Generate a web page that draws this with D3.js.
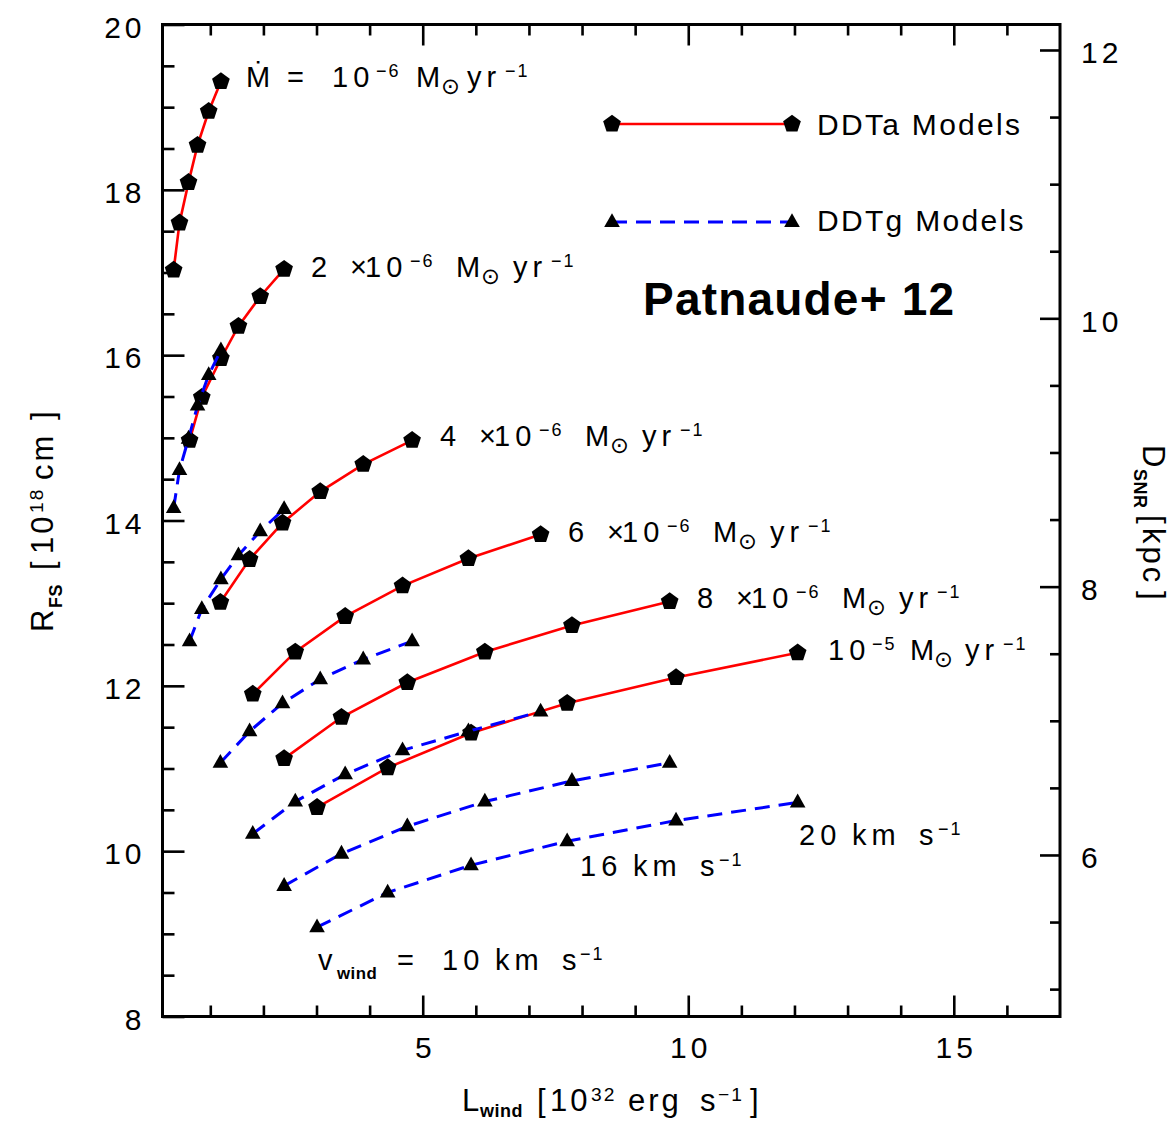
<!DOCTYPE html>
<html><head><meta charset="utf-8">
<script src="https://cdn.jsdelivr.net/npm/d3@7"></script>
<style>
body{margin:0;background:#fff}
text{font-family:"Liberation Sans","DejaVu Sans",Arial,sans-serif;fill:#000}
</style>
</head><body>
<svg id="c" width="1172" height="1122"></svg>
<script>
// ---------------- data ----------------
const mdotModels = ["1e-6", "2e-6", "4e-6", "6e-6", "8e-6", "1e-5"];
// wind luminosity (10^32 erg/s) for v_wind = 10,12,14,16,18,20 km/s
const lwind1e6 = [0.31, 0.42, 0.59, 0.76, 0.97, 1.20];
const lwind2e6 = [0.61, 0.84, 1.20, 1.53, 1.94, 2.39];
const lwind4e6 = [1.19, 1.74, 2.36, 3.07, 3.88, 4.80];
const lwind6e6 = [1.80, 2.60, 3.54, 4.62, 5.86, 7.22];
const lwind8e6 = [2.39, 3.47, 4.71, 6.17, 7.81, 9.65];
const lwind1e5 = [3.01, 4.34, 5.91, 7.72, 9.77, 12.06];
// forward shock radius (10^18 cm), DDTa models
const rfsA1e6 = [17.03, 17.60, 18.09, 18.54, 18.95, 19.31];
const rfsA2e6 = [14.97, 15.49, 15.96, 16.35, 16.71, 17.04];
const rfsA4e6 = [13.01, 13.53, 13.97, 14.35, 14.68, 14.97];
const rfsA6e6 = [11.90, 12.41, 12.84, 13.21, 13.54, 13.83];
const rfsA8e6 = [11.12, 11.62, 12.04, 12.41, 12.73, 13.02];
const rfsA1e5 = [10.53, 11.01, 11.43, 11.79, 12.10, 12.40];
// forward shock radius (10^18 cm), DDTg models
const rfsG1e6 = [14.15, 14.61, 14.99, 15.39, 15.76, 16.06];
const rfsG2e6 = [12.54, 12.93, 13.29, 13.58, 13.87, 14.14];
const rfsG4e6 = [11.07, 11.45, 11.79, 12.08, 12.32, 12.54];
const rfsG6e6 = [10.21, 10.60, 10.93, 11.22, 11.45, 11.69];
const rfsG8e6 = [9.58, 9.97, 10.30, 10.60, 10.85, 11.07];
const rfsG1e5 = [9.08, 9.50, 9.83, 10.12, 10.37, 10.59];
// axis ticks
const xMajorTicks = [5, 10, 15];
const yMajorTicks = [8, 10, 12, 14, 16, 18, 20];
const dMajorTicks = [6, 8, 10, 12];

const lwindAll = [lwind1e6, lwind2e6, lwind4e6, lwind6e6, lwind8e6, lwind1e5];
const rfsAAll = [rfsA1e6, rfsA2e6, rfsA4e6, rfsA6e6, rfsA8e6, rfsA1e5];
const rfsGAll = [rfsG1e6, rfsG2e6, rfsG4e6, rfsG6e6, rfsG8e6, rfsG1e5];

// ---------------- layout ----------------
const L = 162.5, R = 1060, T = 24.5, B = 1016.5;
const svg = d3.select('#c');
const x = d3.scaleLinear().domain([0.1, 17]).range([L, R]);
const y = d3.scaleLinear().domain([8, 20]).range([B, T]);
const yD = d3.scaleLinear().domain([4.796, 12.19]).range([B, T]);

const tickFont = 30, LS = 4;

function styleAxis(g) {
  g.select('.domain').remove();
  g.selectAll('.tick line').attr('stroke', '#000').attr('stroke-width', 2.6);
  g.selectAll('.tick text').attr('font-size', tickFont).attr('letter-spacing', LS)
    .attr('font-family', '"Liberation Sans","DejaVu Sans",Arial,sans-serif').attr('fill', '#000');
}
const minorX = d3.range(1, 17).filter(v => v % 5 !== 0);
const minorY = d3.range(8, 20.01, 0.5).filter(v => v % 2 !== 0);
const minorD = d3.range(5, 12.01, 0.5).filter(v => v % 2 !== 0);

// bottom
svg.append('g').attr('transform', `translate(0,${B})`)
  .call(d3.axisBottom(x).tickValues(minorX).tickSize(-11).tickFormat('')).call(styleAxis);
svg.append('g').attr('transform', `translate(0,${B})`)
  .call(d3.axisBottom(x).tickValues(xMajorTicks).tickSize(-21).tickPadding(20).tickFormat(d3.format('d')))
  .call(styleAxis)
  .selectAll('.tick text').attr('dx', LS / 2);
// top
svg.append('g').attr('transform', `translate(0,${T})`)
  .call(d3.axisTop(x).tickValues(minorX).tickSize(-11).tickFormat('')).call(styleAxis);
svg.append('g').attr('transform', `translate(0,${T})`)
  .call(d3.axisTop(x).tickValues(xMajorTicks).tickSize(-21).tickFormat('')).call(styleAxis);
// left
svg.append('g').attr('transform', `translate(${L},0)`)
  .call(d3.axisLeft(y).tickValues(minorY).tickSize(-12).tickFormat('')).call(styleAxis);
svg.append('g').attr('transform', `translate(${L},0)`)
  .call(d3.axisLeft(y).tickValues(yMajorTicks).tickSize(-22).tickPadding(17).tickFormat(d3.format('d')))
  .call(styleAxis)
  .selectAll('.tick text').attr('dy', '0.42em');
// right
svg.append('g').attr('transform', `translate(${R},0)`)
  .call(d3.axisRight(yD).tickValues(minorD).tickSize(-10).tickFormat('')).call(styleAxis);
svg.append('g').attr('transform', `translate(${R},0)`)
  .call(d3.axisRight(yD).tickValues(dMajorTicks).tickSize(-20).tickPadding(21).tickFormat(d3.format('d')))
  .call(styleAxis)
  .selectAll('.tick text').attr('dy', '0.43em');

// frame
svg.append('rect').attr('x', L).attr('y', T).attr('width', R - L).attr('height', B - T)
  .attr('fill', 'none').attr('stroke', '#000').attr('stroke-width', 3);

// ---------------- markers ----------------
function pentagonPath(r) {
  const pts = d3.range(5).map(i => {
    const a = -Math.PI / 2 + i * 2 * Math.PI / 5;
    return [r * Math.cos(a), r * Math.sin(a)];
  });
  return 'M' + pts.map(p => p.join(',')).join('L') + 'Z';
}
const triPath = 'M0,-8.8L7.8,5L-7.8,5Z';
const pent = pentagonPath(9.3);

const line = d3.line().x(d => x(d[0])).y(d => y(d[1]));
const plot = svg.append('g');

// DDTa (red solid)
rfsAAll.forEach((rs, i) => {
  const pts = lwindAll[i].map((l, j) => [l, rs[j]]);
  plot.append('path').attr('d', line(pts)).attr('fill', 'none')
    .attr('stroke', '#ff0000').attr('stroke-width', 2.6);
  plot.selectAll(null).data(pts).enter().append('path')
    .attr('d', pent).attr('transform', d => `translate(${x(d[0])},${y(d[1])})`).attr('fill', '#000');
});
// DDTg (blue dashed)
rfsGAll.forEach((rs, i) => {
  const pts = lwindAll[i].map((l, j) => [l, rs[j]]);
  plot.append('path').attr('d', line(pts)).attr('fill', 'none')
    .attr('stroke', '#0000ff').attr('stroke-width', 3).attr('stroke-dasharray', '15,9');
  plot.selectAll(null).data(pts).enter().append('path')
    .attr('d', triPath).attr('transform', d => `translate(${x(d[0])},${y(d[1])})`).attr('fill', '#000');
});

// ---------------- rich text helper ----------------
function rich(parent, x0, base, parts, size, ls, subOff) {
  const so = subOff === undefined ? 9 : subOff;
  const t = parent.append('text').attr('font-size', size);
  parts.forEach(([str, dx, kind]) => {
    const ts = t.append('tspan').attr('x', x0 + dx).text(str)
      .attr('letter-spacing', str.length > 1 ? ls : 0);
    if (kind === 'sup') ts.attr('y', base - 10).attr('font-size', size * 0.62).attr('letter-spacing', 2);
    else if (kind === 'sun') ts.attr('y', base + 7).attr('font-size', size * 0.78);
    else if (kind === 'sub') ts.attr('y', base + so).attr('font-size', size * 0.58).attr('font-weight', 'bold').attr('letter-spacing', 0.5);
    else ts.attr('y', base);
  });
  return t;
}
const fs = 29, ALS = 5;
const ann = svg.append('g');
// Mdot labels
rich(ann, 246, 87, [['Ṁ', 0], ['=', 41], ['10', 86], ['−6', 130, 'sup'], ['M', 170], ['⊙', 195, 'sun'], ['yr', 221], ['−1', 259, 'sup']], fs, ALS);
function mdotLabel(x0, base, n) {
  rich(ann, x0, base, [[n, 0], ['×', 39], ['10', 54], ['−6', 99, 'sup'], ['M', 145], ['⊙', 170, 'sun'], ['yr', 202], ['−1', 240, 'sup']], fs, ALS);
}
mdotLabel(311, 277, '2');
mdotLabel(440, 446, '4');
mdotLabel(568, 542, '6');
mdotLabel(697, 608, '8');
rich(ann, 828, 660, [['10', 0], ['−5', 44, 'sup'], ['M', 82], ['⊙', 106, 'sun'], ['yr', 137], ['−1', 175, 'sup']], fs, ALS);
// wind velocity labels
rich(ann, 799, 845, [['20', 0], ['km', 53], ['s', 120], ['−1', 139, 'sup']], fs, ALS);
rich(ann, 580, 876, [['16', 0], ['km', 53], ['s', 120], ['−1', 139, 'sup']], fs, ALS);
rich(ann, 318, 970, [['v', 0], ['wind', 19, 'sub'], ['=', 79], ['10', 124], ['km', 177], ['s', 244], ['−1', 262, 'sup']], fs, ALS);

// legend
const leg = svg.append('g');
leg.append('line').attr('x1', 612).attr('x2', 792).attr('y1', 124).attr('y2', 124)
  .attr('stroke', '#ff0000').attr('stroke-width', 2.6);
[612, 792].forEach(px => leg.append('path').attr('d', pent).attr('transform', `translate(${px},124)`));
leg.append('line').attr('x1', 612).attr('x2', 792).attr('y1', 222).attr('y2', 222)
  .attr('stroke', '#0000ff').attr('stroke-width', 3).attr('stroke-dasharray', '15,9');
[612, 792].forEach(px => leg.append('path').attr('d', triPath).attr('transform', `translate(${px},222)`));
leg.append('text').attr('x', 817).attr('y', 135).attr('font-size', 30).attr('letter-spacing', 2.3).text('DDTa Models');
leg.append('text').attr('x', 817).attr('y', 231).attr('font-size', 30).attr('letter-spacing', 2.3).text('DDTg Models');

svg.append('text').attr('x', 643).attr('y', 315).attr('font-size', 46).attr('font-weight', 'bold')
  .attr('letter-spacing', 1.2).text('Patnaude+ 12');

// axis titles
rich(svg, 462, 1111, [['L', 0], ['wind', 18, 'sub'], ['[', 75], ['10', 88], ['32', 129, 'sup'], ['erg', 166], ['s', 238], ['−1', 256, 'sup'], [']', 288]], 31, 3, 6);
const gy = svg.append('g').attr('transform', 'translate(53,632) rotate(-90)');
rich(gy, 0, 0, [['R', 0], ['FS', 24, 'sub'], ['[', 62], ['10', 78], ['18', 119, 'sup'], ['cm', 152], [']', 212]], 31, 3);
const gd = svg.append('g').attr('transform', 'translate(1143,445) rotate(90)');
rich(gd, 0, 0, [['D', 0], ['SNR', 24, 'sub'], ['[', 70], ['kpc', 83], [']', 146]], 31, 3);
</script>
</body></html>
